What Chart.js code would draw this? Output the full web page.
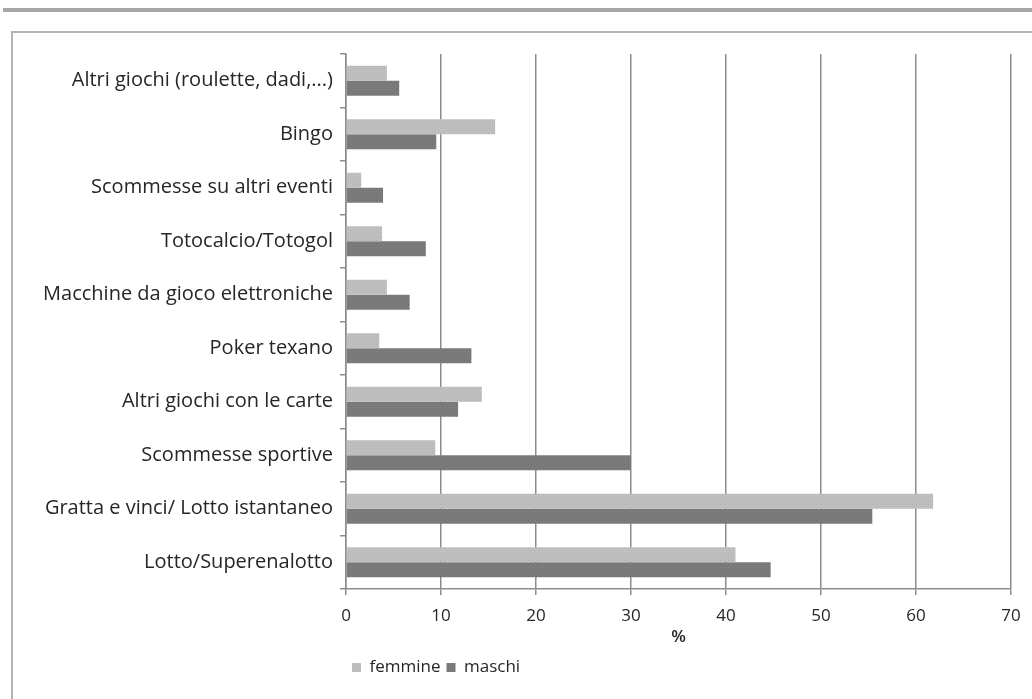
<!DOCTYPE html>
<html>
<head>
<meta charset="utf-8">
<script src="https://cdn.jsdelivr.net/npm/chart.js@4.4.1/dist/chart.umd.min.js"></script>
<style>
  html, body { margin: 0; padding: 0; background: #fff; }
  #wrap { position: relative; width: 1032px; height: 699px; }
</style>
</head>
<body>
<div id="wrap"><canvas id="giochiChart" width="1032" height="699"></canvas></div>
<script>
const categories = [
    'Altri giochi (roulette, dadi,...)',
    'Bingo',
    'Scommesse su altri eventi',
    'Totocalcio/Totogol',
    'Macchine da gioco elettroniche',
    'Poker texano',
    'Altri giochi con le carte',
    'Scommesse sportive',
    'Gratta e vinci/ Lotto istantaneo',
    'Lotto/Superenalotto'
];
const femmine = [4.3, 15.7, 1.6, 3.8, 4.3, 3.5, 14.3, 9.4, 61.8, 41.0];
const maschi = [5.6, 9.5, 3.9, 8.4, 6.7, 13.2, 11.8, 30.0, 55.4, 44.7];
const xTicks = [0, 10, 20, 30, 40, 50, 60, 70];

const textColor = '#262626';
const fontFamily = "'Open Sans', sans-serif";

// small dotted textures like the original
function makePattern(base, dot) {
    const c = document.createElement('canvas');
    c.width = 4; c.height = 4;
    const g = c.getContext('2d');
    g.fillStyle = base;
    g.fillRect(0, 0, 4, 4);
    g.fillStyle = dot;
    g.fillRect(0, 0, 1, 1);
    g.fillRect(2, 2, 1, 1);
    return g.createPattern(c, 'repeat');
}

const framePlugin = {
    id: 'frame',
    beforeDraw(chart) {
        const g = chart.ctx;
        g.save();
        g.fillStyle = '#a6a6a6';
        g.fillRect(3, 8, 1029, 4);
        g.strokeStyle = '#b4b4b4';
        g.lineWidth = 2;
        g.beginPath();
        g.moveTo(12, 699);
        g.lineTo(12, 32);
        g.lineTo(1032, 32);
        g.stroke();
        g.restore();
    }
};

const ctx = document.getElementById('giochiChart');
new Chart(ctx, {
    type: 'bar',
    data: {
        labels: categories,
        datasets: [
            {
                label: 'femmine',
                data: femmine,
                backgroundColor: makePattern('#c0c0c0', '#adadad'),
                borderWidth: 0
            },
            {
                label: 'maschi',
                data: maschi,
                backgroundColor: makePattern('#7c7c7c', '#6a6a6a'),
                borderWidth: 0
            }
        ]
    },
    plugins: [framePlugin],
    options: {
        indexAxis: 'y',
        responsive: false,
        animation: false,
        categoryPercentage: 0.56,
        barPercentage: 1.0,
        layout: { padding: { top: 54, right: 21, bottom: 13, left: 0 } },
        plugins: {
            legend: {
                position: 'bottom',
                fullSize: false,
                align: 'start',
                labels: {
                    boxWidth: 9,
                    boxHeight: 9,
                    color: textColor,
                    font: { family: fontFamily, size: 17 },
                    padding: 6
                }
            },
            tooltip: { enabled: false }
        },
        scales: {
            x: {
                min: 0,
                max: 70,
                afterBuildTicks(scale) {
                    scale.ticks = xTicks.map(v => ({ value: v }));
                },
                afterFit(scale) { scale.height = 64; },
                grid: {
                    color: '#8c8c8c',
                    lineWidth: 1.5,
                    tickLength: 6
                },
                border: { color: '#8c8c8c', width: 1.5 },
                ticks: {
                    color: textColor,
                    font: { family: fontFamily, size: 17 },
                    padding: 11
                },
                title: {
                    display: true,
                    text: '%',
                    color: textColor,
                    font: { family: fontFamily, size: 17, weight: '600' },
                    padding: { top: 0, bottom: 6 }
                }
            },
            y: {
                afterFit(scale) { scale.width = 346; },
                grid: {
                    drawOnChartArea: false,
                    color: '#8c8c8c',
                    lineWidth: 1.5,
                    tickLength: 6
                },
                border: { color: '#8c8c8c', width: 1.5 },
                ticks: {
                    color: textColor,
                    font: { family: fontFamily, size: 20 },
                    padding: 7
                }
            }
        }
    }
});
</script>
</body>
</html>
